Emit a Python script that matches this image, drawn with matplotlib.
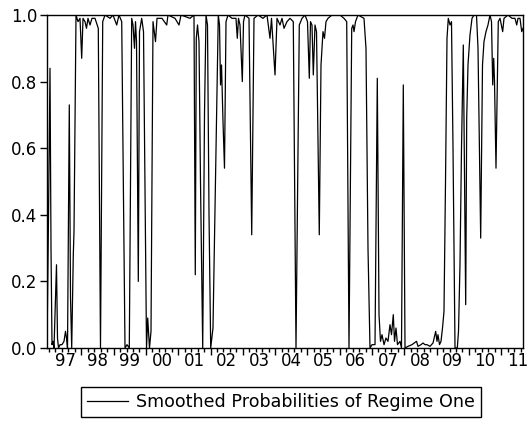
import numpy as np
import matplotlib.pyplot as plt
import matplotlib.transforms as mtransforms
from matplotlib.ticker import MultipleLocator

plt.rcParams['font.family'] = ['DejaVu Sans']

# smoothed probability of regime one (decimal years)
dates = [
    1996.938, 1996.985, 1997.031, 1997.062, 1997.093, 1997.124, 1997.155, 1997.186,
    1997.232, 1997.263, 1997.294, 1997.341, 1997.402, 1997.464, 1997.511, 1997.542,
    1997.573, 1997.628, 1997.666, 1997.703, 1997.752, 1997.774, 1997.836, 1997.898,
    1997.960, 1998.012, 1998.053, 1998.115, 1998.161, 1998.207, 1998.269, 1998.331,
    1998.424, 1998.526, 1998.594, 1998.663, 1998.734, 1998.889, 1998.981, 1999.096,
    1999.167, 1999.251, 1999.353, 1999.415, 1999.486, 1999.560, 1999.601, 1999.647,
    1999.678, 1999.709, 1999.765, 1999.802, 1999.870, 1999.926, 2000.019, 2000.056,
    2000.111, 2000.158, 2000.220, 2000.297, 2000.344, 2000.498, 2000.644, 2000.684,
    2000.901, 2001.025, 2001.087, 2001.365, 2001.489, 2001.529, 2001.560, 2001.598,
    2001.644, 2001.690, 2001.759, 2001.814, 2001.861, 2001.907, 2001.954, 2002.006,
    2002.077, 2002.155, 2002.241, 2002.279, 2002.310, 2002.341, 2002.387, 2002.433,
    2002.480, 2002.542, 2002.666, 2002.789, 2002.830, 2002.867, 2002.913, 2002.985,
    2003.022, 2003.068, 2003.192, 2003.276, 2003.347, 2003.471, 2003.625, 2003.749,
    2003.842, 2003.889, 2003.997, 2004.059, 2004.152, 2004.214, 2004.276, 2004.368,
    2004.461, 2004.563, 2004.647, 2004.749, 2004.833, 2004.926, 2005.003, 2005.059,
    2005.096, 2005.142, 2005.183, 2005.235, 2005.282, 2005.368, 2005.421, 2005.483,
    2005.529, 2005.576, 2005.638, 2005.762, 2006.009, 2006.133, 2006.217, 2006.288,
    2006.372, 2006.412, 2006.443, 2006.489, 2006.567, 2006.752, 2006.814, 2006.876,
    2006.938, 2007.000, 2007.093, 2007.164, 2007.217, 2007.263, 2007.310, 2007.372,
    2007.433, 2007.495, 2007.557, 2007.604, 2007.659, 2007.697, 2007.743, 2007.789,
    2007.867, 2007.913, 2007.969, 2008.022, 2008.115, 2008.238, 2008.378, 2008.424,
    2008.517, 2008.579, 2008.641, 2008.703, 2008.796, 2008.889, 2008.972, 2009.012,
    2009.043, 2009.090, 2009.136, 2009.183, 2009.229, 2009.276, 2009.322, 2009.362,
    2009.415, 2009.461, 2009.508, 2009.570, 2009.641, 2009.678, 2009.724, 2009.771,
    2009.827, 2009.901, 2009.932, 2009.972, 2010.034, 2010.096, 2010.158, 2010.235,
    2010.282, 2010.365, 2010.421, 2010.467, 2010.529, 2010.591, 2010.653, 2010.700,
    2010.737, 2010.768, 2010.793, 2010.839, 2010.910, 2010.963, 2011.046, 2011.087,
    2011.211, 2011.334, 2011.427, 2011.480, 2011.520, 2011.582, 2011.635, 2011.675,
]
prob = [
    0.00, 0.40, 0.84, 0.30, 0.01, 0.02, 0.00, 0.10,
    0.25, 0.03, 0.00, 0.01, 0.01, 0.02, 0.05, 0.03,
    0.00, 0.73, 0.15, 0.00, 0.28, 0.35, 1.00, 0.98,
    0.99, 0.87, 0.99, 0.98, 0.96, 0.99, 0.97, 0.99,
    0.99, 0.96, 0.00, 0.98, 1.00, 0.99, 1.00, 0.97,
    1.00, 0.98, 0.00, 0.01, 0.00, 0.99, 0.97, 0.90,
    0.98, 0.92, 0.20, 0.95, 0.99, 0.95, 0.00, 0.09,
    0.00, 0.05, 0.98, 0.92, 0.99, 0.99, 0.97, 1.00,
    0.99, 0.97, 1.00, 0.99, 1.00, 0.22, 0.93, 0.97,
    0.92, 0.50, 0.00, 0.70, 1.00, 0.97, 0.40, 0.00,
    0.06, 0.50, 1.00, 0.97, 0.79, 0.85, 0.68, 0.54,
    0.98, 1.00, 0.99, 0.99, 0.93, 0.99, 0.97, 0.80,
    0.98, 1.00, 0.99, 0.34, 0.99, 1.00, 0.99, 1.00,
    0.93, 0.99, 0.82, 0.99, 0.97, 0.99, 0.96, 0.98,
    0.99, 0.98, 0.00, 0.97, 0.99, 1.00, 0.98, 0.81,
    0.98, 0.97, 0.82, 0.97, 0.95, 0.34, 0.85, 0.95,
    0.93, 0.98, 0.99, 1.00, 1.00, 0.99, 0.98, 0.00,
    0.96, 0.97, 0.95, 0.98, 1.00, 0.99, 0.90, 0.30,
    0.00, 0.01, 0.01, 0.81, 0.10, 0.02, 0.04, 0.01,
    0.03, 0.02, 0.07, 0.04, 0.10, 0.02, 0.06, 0.01,
    0.02, 0.00, 0.79, 0.00, 0.005, 0.01, 0.02, 0.005,
    0.01, 0.015, 0.01, 0.01, 0.005, 0.015, 0.05, 0.02,
    0.04, 0.01, 0.02, 0.06, 0.11, 0.50, 0.93, 0.99,
    0.97, 0.98, 0.60, 0.00, 0.00, 0.05, 0.25, 0.60,
    0.91, 0.13, 0.69, 0.85, 0.94, 0.99, 1.00, 1.00,
    0.90, 0.33, 0.85, 0.92, 0.95, 0.97, 1.00, 0.98,
    0.79, 0.87, 0.80, 0.54, 0.98, 0.99, 0.95, 0.99,
    1.00, 0.99, 0.99, 0.97, 0.99, 0.99, 0.95, 0.96,
]
year_labels = ['97', '98', '99', '00', '01', '02', '03', '04',
               '05', '06', '07', '08', '09', '10', '11']
y_ticks = [0.0, 0.2, 0.4, 0.6, 0.8, 1.0]

fig = plt.figure(figsize=(5.27, 4.29), dpi=100)
ax = fig.add_axes([47 / 527, 1 - 348 / 429, 476 / 527, 333 / 429])

ax.plot(dates, prob, color='black', lw=0.9, label='Smoothed Probabilities of Regime One')

ax.set_xlim(1996.938, 2011.675)
ax.set_ylim(0, 1)
ax.set_yticks(y_ticks)
ax.set_yticklabels([f'{v:.1f}' for v in y_ticks])

# year boundaries get long ticks, labels sit in the middle of each year
ax.set_xticks(np.arange(1998, 2012))
ax.xaxis.set_minor_locator(MultipleLocator(0.2))
ax.tick_params(axis='x', which='major', length=5, width=1, labelbottom=False)
ax.tick_params(axis='x', which='minor', length=3, width=1)
ax.tick_params(axis='y', length=5, width=1, labelsize=12, pad=2)

trans = mtransforms.blended_transform_factory(ax.transData, ax.transAxes)
for i, lab in enumerate(year_labels):
    ax.text(1997.5 + i, -0.012, lab, transform=trans, ha='center', va='top',
            fontsize=12)

for s in ax.spines.values():
    s.set_linewidth(1)

fig.legend(loc='upper center', bbox_to_anchor=(0.533, 0.098), fontsize=12.6,
           fancybox=False, edgecolor='black', framealpha=1, handlelength=2.3,
           handletextpad=0.45, borderpad=0.35, borderaxespad=0)

fig.savefig('out.png', dpi=100)
